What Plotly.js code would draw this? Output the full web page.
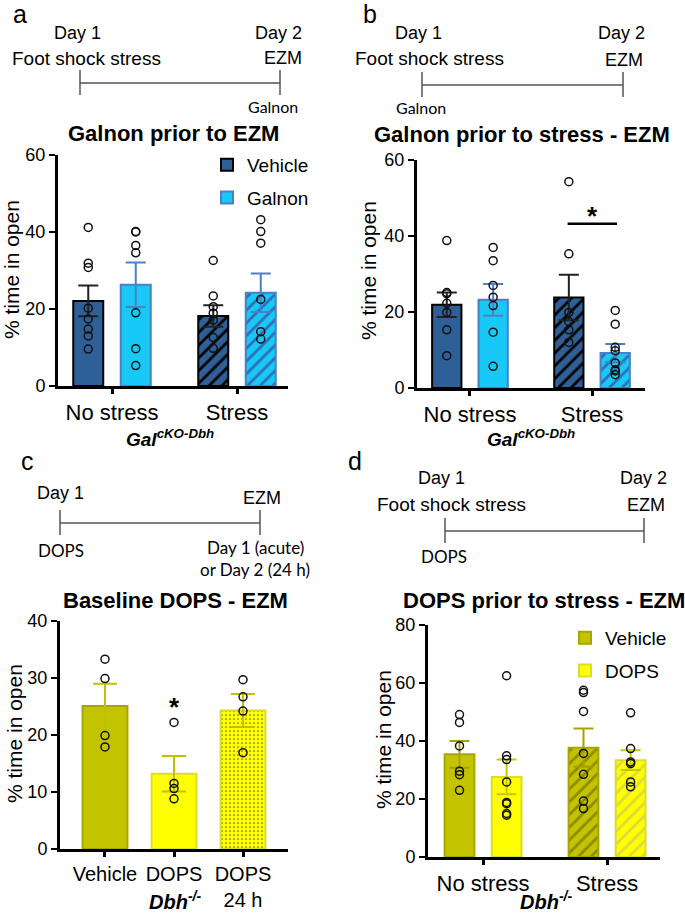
<!DOCTYPE html>
<html>
<head>
<meta charset="utf-8">
<script src="https://cdn.plot.ly/plotly-3.0.1.min.js"></script>
<style>body{margin:0;background:#fff}#plot{width:685px;height:915px}</style>
</head>
<body>
<div id="plot"></div>
<script>
// categories / tick labels
var stressCats = ["No stress", "Stress"];
var dopsCats = ["Vehicle", "DOPS", "DOPS<br>24 h"];

// a - Galnon prior to EZM (Gal cKO-Dbh)
var aVehMean = [22.1, 18.2];
var aVehSem = [4.0, 2.8];
var aGalMean = [26.3, 24.2];
var aGalSem = [5.8, 5.0];
var aVehPts = [[41.2, 31.9, 30.8, 20.2, 17.4, 14.8, 13.0, 9.6], [32.6, 23.4, 20.6, 18.9, 17.1, 12.6, 9.8]];
var aGalPts = [[40.1, 40.0, 36.5, 34.6, 19.0, 9.7, 5.3], [43.2, 40.1, 37.1, 22.5, 14.1, 12.2]];

// b - Galnon prior to stress - EZM
var bVehMean = [21.9, 23.8];
var bVehSem = [3.2, 6.0];
var bGalMean = [23.2, 9.2];
var bGalSem = [4.2, 2.4];
var bVehPts = [[38.8, 25.1, 24.8, 22.3, 19.9, 15.3, 8.5], [54.3, 35.3, 19.9, 17.5, 15.3, 12.0]];
var bGalPts = [[37.0, 33.5, 27.0, 23.9, 21.7, 14.7, 5.7], [20.4, 16.8, 10.7, 9.8, 6.6, 4.8, 4.5, 3.5]];
var bSigY = 43.2;

// c - Baseline DOPS - EZM (Dbh-/-)
var cMean = [25.1, 13.2, 24.3];
var cSem = [3.9, 3.1, 2.9];
var cPts = [[33.3, 29.9, 19.9, 17.9], [22.2, 11.5, 10.6, 8.8], [29.7, 26.7, 24.2, 16.9]];
var cStarY = 25.7;

// d - DOPS prior to stress - EZM (Dbh-/-)
var dVehMean = [35.4, 37.7];
var dVehSem = [4.6, 6.6];
var dDopsMean = [27.6, 33.4];
var dDopsSem = [6.0, 3.4];
var dVehPts = [[49.1, 46.4, 38.3, 29.6, 28.4, 23.0], [57.5, 56.7, 50.2, 35.7, 28.5, 19.3, 16.7]];
var dDopsPts = [[62.5, 34.9, 33.6, 25.9, 18.8, 18.4, 15.0, 14.4], [49.7, 37.4, 32.8, 32.2, 25.9, 24.2]];

var W = 685, H = 915;
function px(x) { return x / W; }
function py(y) { return 1 - y / H; }

var traces = [];
var BW = 0.24, SHIFT = 0.19;

function addGroup(xa, ya, name, mean, sem, pts, shift, col, lineCol, errCol, fg, legend, showleg) {
  var idx = mean.map(function (_, i) { return i; });
  traces.push({
    type: "bar", x: idx, y: mean, xaxis: xa, yaxis: ya,
    width: BW, offset: shift - BW / 2, name: name, legend: legend, showlegend: showleg,
    legendgroup: name + legend,
    marker: {
      color: col, line: { color: lineCol, width: 2 },
      pattern: { shape: ["", "/"], fgcolor: fg, bgcolor: col, size: 9, solidity: 0.3 }
    },
    error_y: { type: "data", array: sem, visible: true, color: errCol, thickness: 2, width: 10 }
  });
  var xs = [], ys = [];
  pts.forEach(function (g, i) { g.forEach(function (v) { xs.push(i + shift); ys.push(v); }); });
  traces.push({
    type: "scatter", mode: "markers", x: xs, y: ys, xaxis: xa, yaxis: ya, showlegend: false,
    marker: { symbol: "circle-open", size: 8, color: "#111", line: { width: 1.5 } }
  });
}

var vehBlue = "#2F5F97", galBlue = "#18C8F6", galLine = "#4A80C4";
var olive = "#C3C300", oliveLine = "#A6A600", yel = "#FFFF00", yelLine = "#DCDC2C";

addGroup("x", "y", "Vehicle", aVehMean, aVehSem, aVehPts, -SHIFT, vehBlue, "#000", "#222", "#000", "legend", true);
addGroup("x", "y", "Galnon", aGalMean, aGalSem, aGalPts, SHIFT, galBlue, galLine, galLine, "#2F6DB5", "legend", true);
addGroup("x2", "y2", "Vehicle", bVehMean, bVehSem, bVehPts, -SHIFT, vehBlue, "#000", "#222", "#000", "legend", false);
addGroup("x2", "y2", "Galnon", bGalMean, bGalSem, bGalPts, SHIFT, galBlue, galLine, galLine, "#2F6DB5", "legend", false);
addGroup("x4", "y4", "Vehicle", dVehMean, dVehSem, dVehPts, -SHIFT, olive, oliveLine, "#A8A200", "#8A8A00", "legend2", true);
addGroup("x4", "y4", "DOPS", dDopsMean, dDopsSem, dDopsPts, SHIFT, yel, yelLine, "#C8C800", "#DADA3A", "legend2", true);

// c: single series, three bars (last one dotted)
traces.push({
  type: "bar", x: [0, 1, 2], y: cMean, xaxis: "x3", yaxis: "y3", width: 0.65, showlegend: false,
  marker: {
    color: [olive, yel, yel], line: { color: [oliveLine, yelLine, yelLine], width: 2 },
    pattern: { shape: ["", "", "."], fillmode: "overlay", fgcolor: "#B8B800", fgopacity: 0.8, size: 4, solidity: 0.15 }
  },
  error_y: { type: "data", array: cSem, visible: true, color: "#C2C000", thickness: 2, width: 12 }
});
(function () {
  var xs = [], ys = [];
  cPts.forEach(function (g, i) { g.forEach(function (v) { xs.push(i); ys.push(v); }); });
  traces.push({
    type: "scatter", mode: "markers", x: xs, y: ys, xaxis: "x3", yaxis: "y3", showlegend: false,
    marker: { symbol: "circle-open", size: 8, color: "#111", line: { width: 1.5 } }
  });
})();

function yax(d0, d1, max, dtick, anchor) {
  return {
    domain: [d0, d1], range: [0, max], dtick: dtick, anchor: anchor,
    showline: true, linewidth: 3, linecolor: "#000", ticks: "outside", ticklen: 6, tickwidth: 2.5,
    tickcolor: "#000", showgrid: false, zeroline: false, tickfont: { size: 18, color: "#000" }
  };
}
function xax(d0, d1, r0, r1, text, anchor, size) {
  return {
    domain: [d0, d1], range: [r0, r1], anchor: anchor,
    tickvals: text.map(function (_, i) { return i; }), ticktext: text,
    showline: true, linewidth: 3, linecolor: "#000", ticks: "outside", ticklen: 5, tickwidth: 3,
    tickcolor: "#000", showgrid: false, zeroline: false, tickfont: { size: size, color: "#000" }
  };
}

var SANS = "Arial, Liberation Sans, sans-serif";
var CAL = "Lato, Open Sans, sans-serif";
function txt(t, x, y, size, extra) {
  var a = {
    text: t, x: px(x), y: py(y), xref: "paper", yref: "paper", showarrow: false,
    xanchor: "center", yanchor: "middle", font: { size: size, family: SANS, color: "#000" }
  };
  for (var k in extra) a[k] = extra[k];
  return a;
}
function cal(t, x, y, size) { return txt(t, x, y, size, { font: { size: size, family: CAL, color: "#000" } }); }
function ytitle(x, y) { return txt("% time in open", x, y, 21, { textangle: -90 }); }

var shapes = [];
function timeline(x1, x2, y) {
  var ln = { color: "#555", width: 1.5 };
  shapes.push({ type: "line", xref: "paper", yref: "paper", x0: px(x1), x1: px(x2), y0: py(y), y1: py(y), line: ln });
  [x1, x2].forEach(function (x) {
    shapes.push({ type: "line", xref: "paper", yref: "paper", x0: px(x), x1: px(x), y0: py(y - 13), y1: py(y + 12), line: ln });
  });
}
timeline(80, 280, 83);
timeline(422, 623, 85);
timeline(60, 260, 523);
timeline(445, 644, 531);

// significance bar in b, between stressed groups
shapes.push({ type: "line", xref: "x2", yref: "y2", x0: 1 - SHIFT - 0.01, x1: 1 + SHIFT + 0.015, y0: bSigY, y1: bSigY, line: { color: "#000", width: 2.5 } });

var annotations = [
  // a
  txt("a", 20, 14, 25), txt("Day 1", 77, 33, 18), txt("Foot shock stress", 87, 58, 19),
  txt("Day 2", 278, 33, 18), txt("EZM", 283, 58, 18),
  cal("Galnon", 273, 107, 16),
  txt("<b>Galnon prior to EZM</b>", 174, 133, 22),
  ytitle(11, 270), txt("<b><i>Gal<sup>cKO-Dbh</sup></i></b>", 170, 438, 19),
  // b
  txt("b", 370, 14, 25), txt("Day 1", 418, 33, 18), txt("Foot shock stress", 429, 58, 19),
  txt("Day 2", 621, 33, 18), txt("EZM", 624, 60, 18),
  cal("Galnon", 421, 108, 16),
  txt("<b>Galnon prior to stress - EZM</b>", 522, 134, 22),
  ytitle(368, 271), txt("<b><i>Gal<sup>cKO-Dbh</sup></i></b>", 531, 438, 19),
  { text: "<b>*</b>", x: 1, y: bSigY + 2, xref: "x2", yref: "y2", showarrow: false, yanchor: "middle",
    font: { size: 26, family: SANS, color: "#000" } },
  // c
  txt("c", 27, 461, 25), txt("Day 1", 60, 493, 18), txt("EZM", 262, 498, 18),
  cal("DOPS", 61, 550, 17),
  cal("Day 1 (acute)", 255, 547, 17),
  cal("or Day 2 (24 h)", 255, 569, 17),
  txt("<b>Baseline DOPS - EZM</b>", 175, 600, 22),
  ytitle(14, 734), txt("<b><i>Dbh<sup>-/-</sup></i></b>", 175, 900, 20),
  { text: "<b>*</b>", x: 1, y: cStarY - 0.8, xref: "x3", yref: "y3", showarrow: false, yanchor: "middle",
    font: { size: 26, family: SANS, color: "#000" } },
  // d
  txt("d", 355, 461, 25), txt("Day 1", 441, 478, 18), txt("Foot shock stress", 451, 504, 19),
  txt("Day 2", 643, 478, 18), txt("EZM", 646, 505, 18),
  cal("DOPS", 444, 556, 17),
  txt("<b>DOPS prior to stress - EZM</b>", 544, 600, 22),
  ytitle(383, 740), txt("<b><i>Dbh<sup>-/-</sup></i></b>", 546, 900, 20)
];

var layout = {
  width: W, height: H, margin: { l: 0, r: 0, t: 0, b: 0 },
  paper_bgcolor: "#fff", plot_bgcolor: "rgba(0,0,0,0)",
  font: { family: SANS, color: "#000" },
  barmode: "group",
  xaxis: xax(px(58), px(288), -0.432, 1.408, stressCats, "y", 22),
  yaxis: yax(py(386), py(155), 60, 20, "x"),
  xaxis2: xax(px(417), px(645), -0.434, 1.434, stressCats, "y2", 22),
  yaxis2: yax(py(388), py(160), 60, 20, "x2"),
  xaxis3: xax(px(60), px(288), -0.652, 2.652, dopsCats, "y3", 20),
  yaxis3: yax(py(849), py(621), 40, 10, "x3"),
  xaxis4: xax(px(428), px(660), -0.444, 1.427, stressCats, "y4", 22),
  yaxis4: yax(py(857), py(625), 80, 20, "x4"),
  legend: { x: px(207), y: py(146), xanchor: "left", yanchor: "top", font: { size: 19 },
    bgcolor: "rgba(0,0,0,0)", tracegroupgap: 5 },
  legend2: { x: px(565), y: py(619), xanchor: "left", yanchor: "top", font: { size: 19 },
    bgcolor: "rgba(0,0,0,0)", tracegroupgap: 5 },
  shapes: shapes,
  annotations: annotations
};

Plotly.newPlot("plot", traces, layout, { displayModeBar: false, staticPlot: true });
</script>
</body>
</html>
